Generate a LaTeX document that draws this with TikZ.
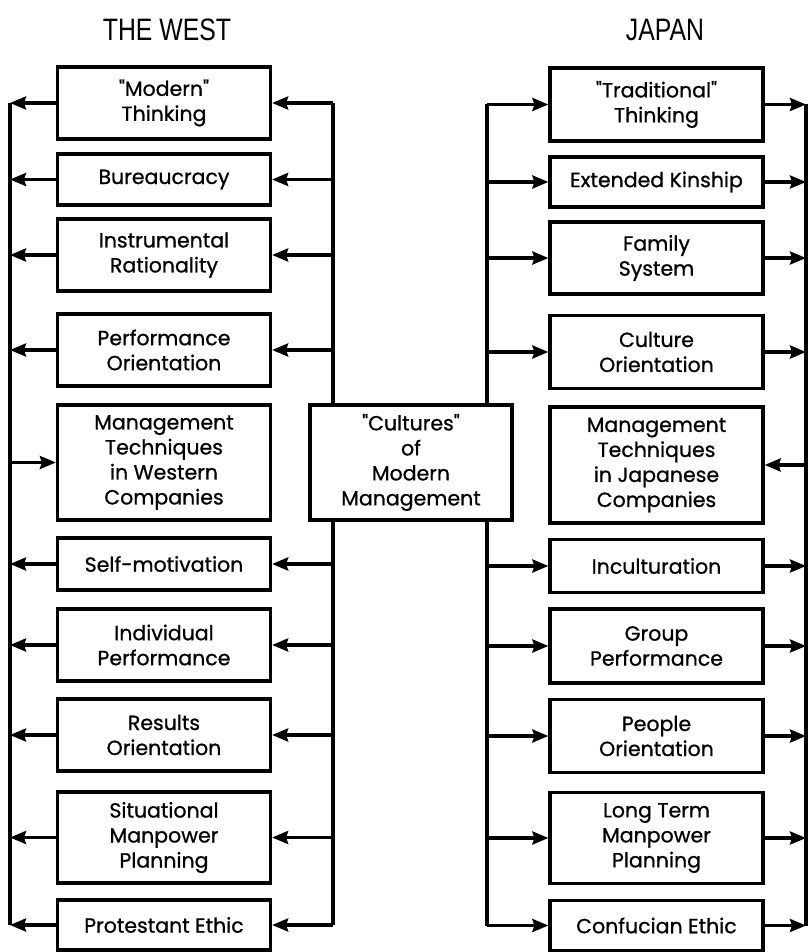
\documentclass[tikz,border=0pt]{standalone}
\usepackage{fontspec}
\setmainfont{Poppins}[Ligatures=TeXOff,FakeBold=0.8]
\newfontfamily\titlefont{Liberation Sans}
\usetikzlibrary{arrows.meta}
\begin{document}
\begin{tikzpicture}[x=1pt,y=-1pt,
  bx/.style={draw,line width=3.2pt,fill=white,minimum width=213pt,align=center,
    font=\fontsize{20.5}{25}\selectfont,inner sep=0pt},
  cbx/.style={bx,minimum width=202pt},
  arr/.style={-{Stealth[length=16pt,width=13pt,inset=2pt]},line width=3.2pt},
  ln/.style={line width=3.2pt},
  ttl/.style={font=\titlefont\fontsize{31}{31}\selectfont}]
\useasboundingbox (0,0) rectangle (809,952);
% guide coordinates
\coordinate (ol) at (10,0);
\coordinate (cl) at (333,0);
\coordinate (cr) at (487,0);
\coordinate (or) at (806,0);
% titles
\node[ttl] (tw) at (167,30) {\scalebox{0.8}[1]{THE WEST}};
\node[ttl] (tj) at (665,30) {\scalebox{0.8}[1]{JAPAN}};
% west boxes
\node[bx,minimum height=72pt] (w1) at (164,103) {"Modern"\\Thinking};
\node[bx,minimum height=51pt] (w2) at (164,179.5) {Bureaucracy};
\node[bx,minimum height=72pt] (w3) at (164,255) {Instrumental\\Rationality};
\node[bx,minimum height=72pt] (w4) at (164,350) {Performance\\Orientation};
\node[bx,minimum height=115pt] (w5) at (164,462.5) {Management\\Techniques\\in Western\\Companies};
\node[bx,minimum height=52pt] (w6) at (164,564) {Self-motivation};
\node[bx,minimum height=72pt] (w7) at (164,645) {Individual\\Performance};
\node[bx,minimum height=72pt] (w8) at (164,735) {Results\\Orientation};
\node[bx,minimum height=91pt] (w9) at (164,837.5) {Situational\\Manpower\\Planning};
\node[bx,minimum height=50pt] (w10) at (164,925) {Protestant Ethic};
% japan boxes
\node[bx,minimum height=73pt] (j1) at (656.5,104.5) {"Traditional"\\Thinking};
\node[bx,minimum height=50pt] (j2) at (656.5,182) {Extended Kinship};
\node[bx,minimum height=72pt] (j3) at (656.5,258) {Family\\System};
\node[bx,minimum height=73pt] (j4) at (656.5,352) {Culture\\Orientation};
\node[bx,minimum height=116pt] (j5) at (656.5,465) {Management\\Techniques\\in Japanese\\Companies};
\node[bx,minimum height=53pt] (j6) at (656.5,566) {Inculturation};
\node[bx,minimum height=74pt] (j7) at (656.5,646) {Group\\Performance};
\node[bx,minimum height=73pt] (j8) at (656.5,736) {People\\Orientation};
\node[bx,minimum height=91pt] (j9) at (656.5,838) {Long Term\\Manpower\\Planning};
\node[bx,minimum height=50pt] (j10) at (656.5,925.5) {Confucian Ethic};
% vertical lines
\draw[ln] (w1.west -| ol) -- (w10.west -| ol);
\draw[ln] (w1.east -| cl) -- (w10.east -| cl);
\draw[ln] (j1.west -| cr) -- (j10.west -| cr);
\draw[ln] (j1.east -| or) -- (j10.east -| or);
% west connectors
\foreach \i in {1,2,3,4,6,7,8,9,10}{
  \draw[arr] (w\i.west) -- (w\i.west -| ol);
  \draw[arr] (w\i.east -| cl) -- (w\i.east);
}
\draw[arr] (w5.west -| ol) -- (w5.west);
% japan connectors
\foreach \i in {1,2,3,4,6,7,8,9,10}{
  \draw[arr] (j\i.west -| cr) -- (j\i.west);
  \draw[arr] (j\i.east) -- (j\i.east -| or);
}
\draw[arr] (j5.east -| or) -- (j5.east);
% centre box
\node[cbx,minimum height=115pt] (c) at (411,462.5) {"Cultures"\\of\\Modern\\Management};
\end{tikzpicture}
\end{document}
